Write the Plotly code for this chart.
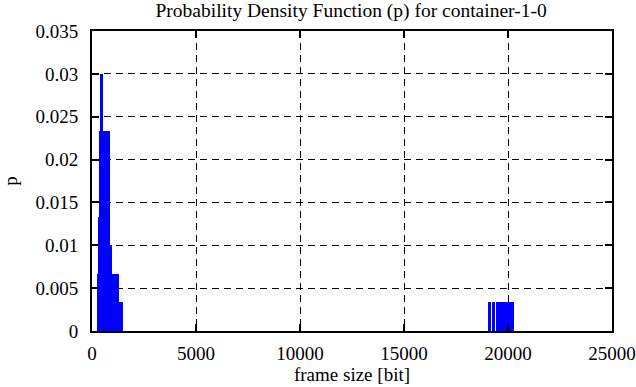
import plotly.graph_objects as go

# Left cluster: frame size bins [bit] and probability p
left_sizes = [300, 350, 400, 450, 500, 550, 600, 650, 700, 750, 800, 850, 900,
              950, 1000, 1050, 1100, 1150, 1200, 1250, 1300, 1350, 1400, 1450]
left_p = [0.00667, 0.01333, 0.02333, 0.03, 0.03, 0.02333, 0.02333, 0.02, 0.02333,
          0.02333, 0.02333, 0.01, 0.01, 0.00667, 0.00667, 0.00667, 0.00667,
          0.00333, 0.00667, 0.00667, 0.00333, 0.0, 0.00333, 0.00333]

# Right cluster
right_sizes = [19100, 19150, 19300, 19350, 19500, 19550, 19600, 19650, 19700, 19750,
               19850, 19900, 19950, 20000, 20050, 20100, 20150, 20200, 20250]
right_p = [0.00333, 0.00333, 0.00333, 0.00333, 0.00333, 0.00333, 0.00333, 0.00333,
           0.00333, 0.00333, 0.00333, 0.00333, 0.00333, 0.00333, 0.00333, 0.00333,
           0.00333, 0.00333, 0.00333]

x_ticks = [0, 5000, 10000, 15000, 20000, 25000]
y_ticks = [0, 0.005, 0.01, 0.015, 0.02, 0.025, 0.03, 0.035]
y_tick_text = ["0", "0.005", "0.01", "0.015", "0.02", "0.025", "0.03", "0.035"]

sizes = left_sizes + right_sizes
probs = left_p + right_p

FONT = "Liberation Serif"

fig = go.Figure()
fig.add_trace(go.Bar(
    x=sizes, y=probs, width=60,
    marker=dict(color="#0000ff", line=dict(width=0)),
    showlegend=False, hoverinfo="skip",
))

axis_common = dict(
    showline=True, linecolor="black", linewidth=2, mirror="ticks",
    ticks="inside", ticklen=7, tickwidth=2, tickcolor="black",
    showgrid=True, gridcolor="black", gridwidth=1, griddash="7px,5px",
    zeroline=False, automargin=False,
    tickfont=dict(family=FONT, size=19, color="black"),
)

fig.update_layout(
    width=636, height=387,
    margin=dict(l=92, r=24, t=31, b=56),
    paper_bgcolor="white", plot_bgcolor="white",
    barmode="overlay", bargap=0,
    font=dict(family=FONT, color="black"),
    title=dict(text="Probability Density Function (p) for container-1-0",
               x=0.552, xanchor="center",
               y=1 - 10 / 387, yanchor="middle",
               font=dict(family=FONT, size=19.5, color="black")),
    xaxis=dict(range=[0, 25000], tickvals=x_ticks, ticktext=[str(v) for v in x_ticks],
               title=dict(text="frame size [bit]", font=dict(family=FONT, size=19, color="black"),
                          standoff=5),
               ticklabelstandoff=4,
               **axis_common),
    yaxis=dict(range=[0, 0.035], tickvals=y_ticks, ticktext=y_tick_text,
               title=dict(text="p", font=dict(family=FONT, size=19, color="black"),
                          standoff=16),
               ticklabelstandoff=8,
               **axis_common),
)

fig.write_html("out.html",
               config={"displayModeBar": False},
               post_script="document.body.style.margin='0';document.body.style.padding='0';")
